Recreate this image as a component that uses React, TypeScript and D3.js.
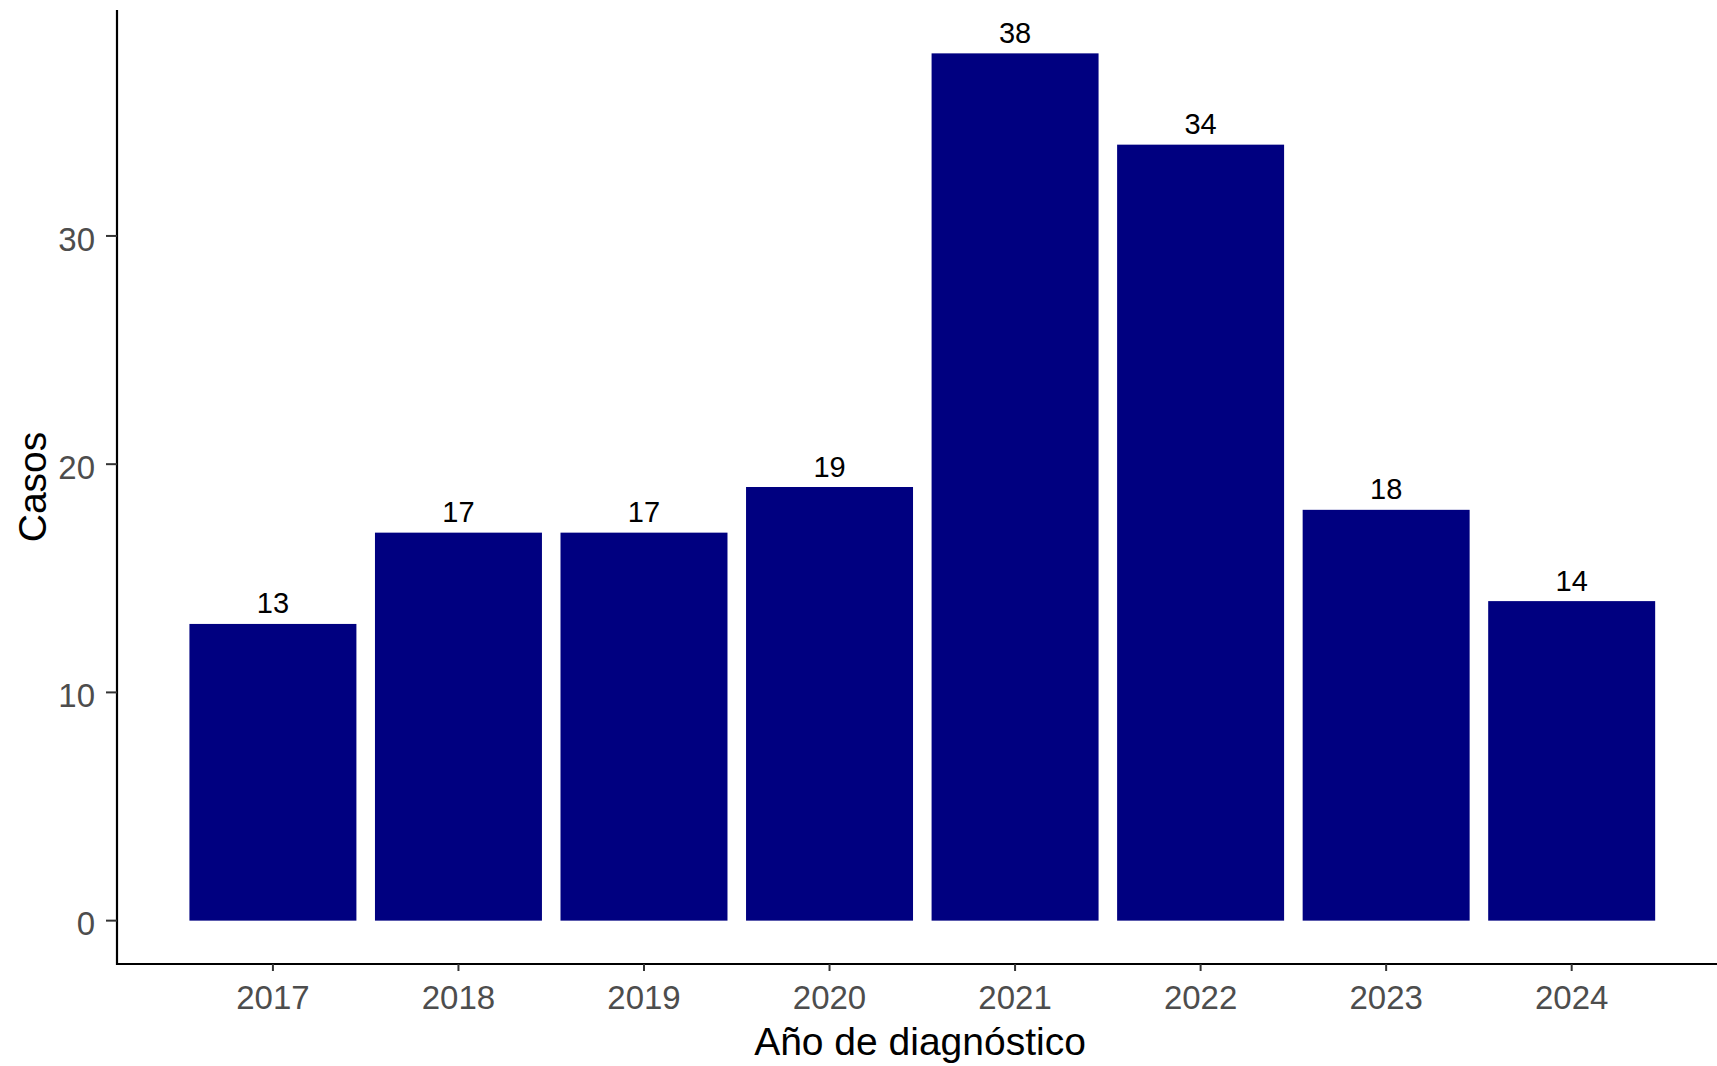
import React from "react";
import * as d3 from "d3";

const years: string[] = ["2017", "2018", "2019", "2020", "2021", "2022", "2023", "2024"];
const casos: number[] = [13, 17, 17, 19, 38, 34, 18, 14];
const yTicks: number[] = [0, 10, 20, 30];
const xTitle = "Año de diagnóstico";
const yTitle = "Casos";

const W = 1717;
const H = 1066;
const FONT = "'Liberation Sans', Arial, sans-serif";

export default function App() {
  const axisX = 117;
  const axisY = 964;
  const x = d3
    .scaleBand<string>()
    .domain(years)
    .range([180.15, 1664.45])
    .paddingInner(0.1)
    .paddingOuter(0.05);
  const y = d3.scaleLinear().domain([-1.9, 39.9]).range([964, 10]);

  return (
    <svg
      width={W}
      height={H}
      style={{ position: "absolute", left: 0, top: 0, background: "#fff" }}
      fontFamily={FONT}
    >
      {years.map((yr, i) => (
        <rect
          key={yr}
          x={x(yr)}
          y={y(casos[i])}
          width={x.bandwidth()}
          height={y(0) - y(casos[i])}
          fill="#000080"
        />
      ))}
      {years.map((yr, i) => (
        <text
          key={"l" + yr}
          x={(x(yr) as number) + x.bandwidth() / 2}
          y={y(casos[i]) - 10.5}
          textAnchor="middle"
          fontSize={29}
          fill="#000"
        >
          {casos[i]}
        </text>
      ))}
      {/* axes */}
      <line x1={axisX} x2={axisX} y1={10} y2={axisY + 1} stroke="#000" strokeWidth={2.2} />
      <line x1={axisX - 1} x2={W} y1={axisY} y2={axisY} stroke="#000" strokeWidth={2.2} />
      {yTicks.map((t) => (
        <g key={"yt" + t}>
          <line x1={axisX - 11} x2={axisX} y1={y(t)} y2={y(t)} stroke="#333" strokeWidth={2} />
          <text
            x={95}
            y={y(t)}
            dy="0.45em"
            textAnchor="end"
            fontSize={33}
            fill="#4D4D4D"
          >
            {t}
          </text>
        </g>
      ))}
      {years.map((yr) => {
        const cx = (x(yr) as number) + x.bandwidth() / 2;
        return (
          <g key={"xt" + yr}>
            <line x1={cx} x2={cx} y1={axisY} y2={axisY + 7} stroke="#333" strokeWidth={2} />
            <text x={cx} y={1009} textAnchor="middle" fontSize={33} fill="#4D4D4D">
              {yr}
            </text>
          </g>
        );
      })}
      <text x={920} y={1055} textAnchor="middle" fontSize={39} fill="#000">
        {xTitle}
      </text>
      <text
        transform={`translate(45.6, 487) rotate(-90)`}
        textAnchor="middle"
        fontSize={39}
        fill="#000"
      >
        {yTitle}
      </text>
    </svg>
  );
}
